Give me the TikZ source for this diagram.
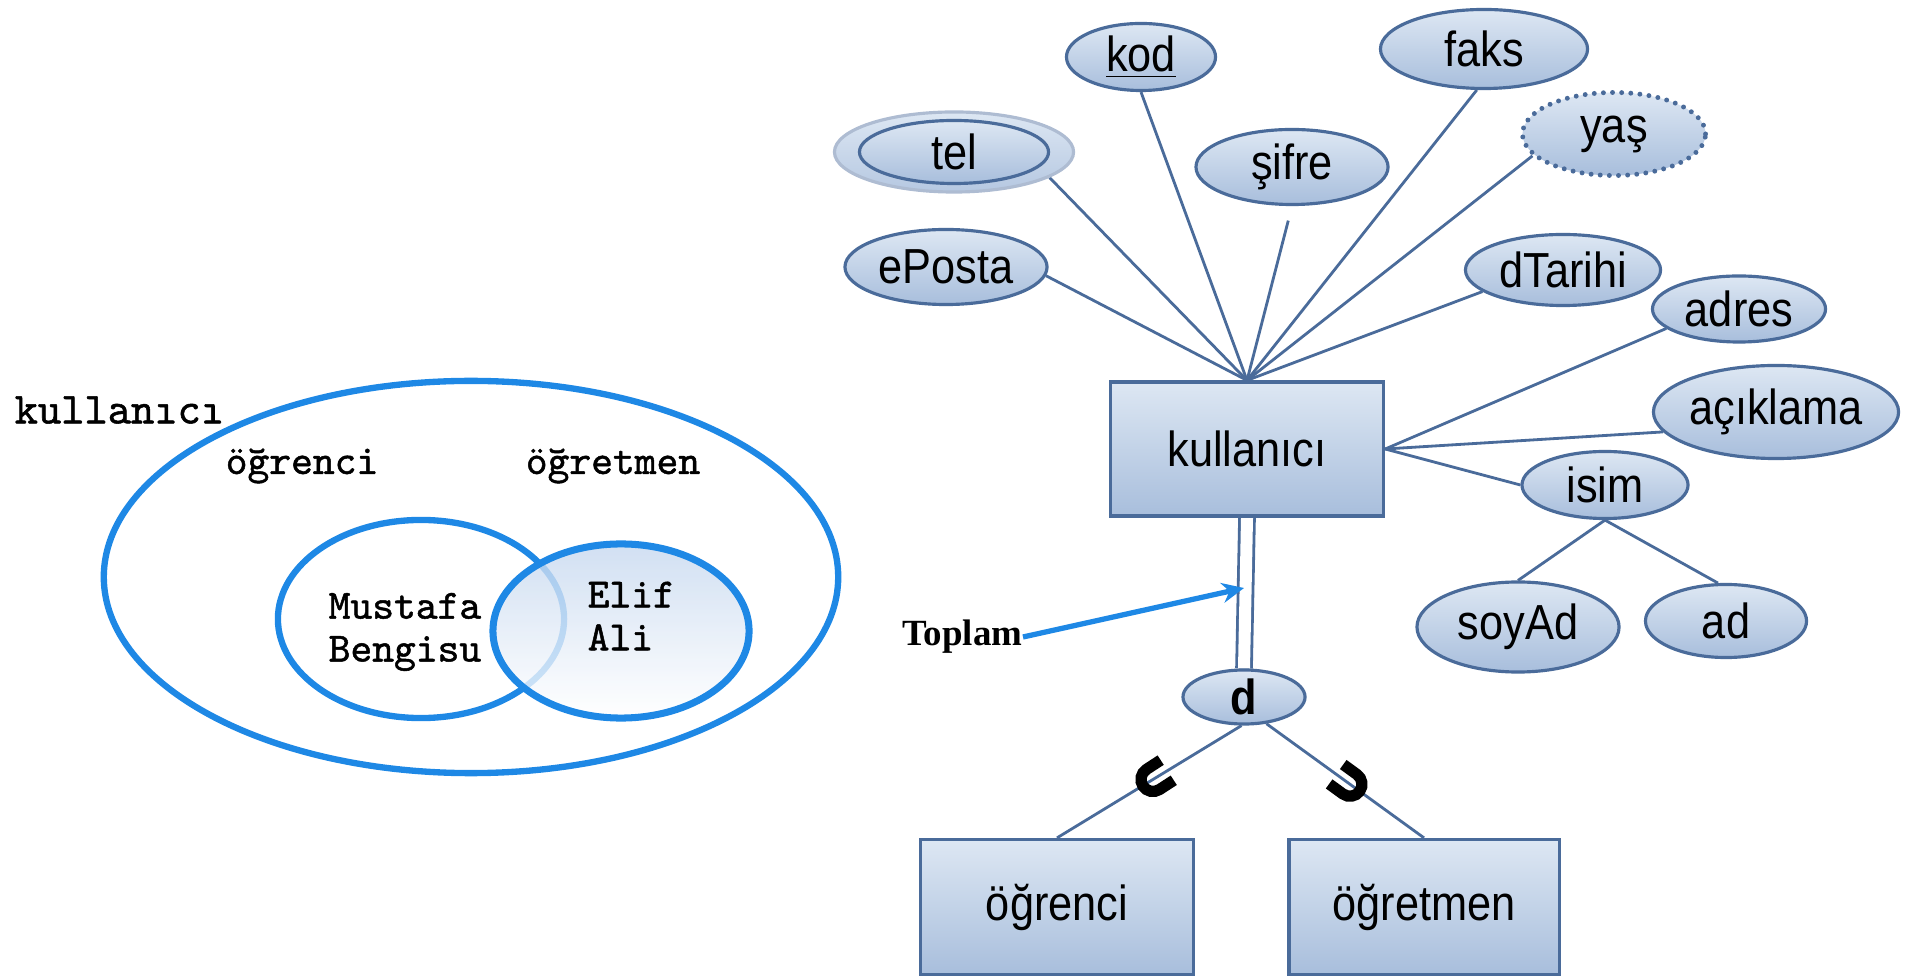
\documentclass[tikz,border=0pt]{standalone}
\usepackage{fontspec}
\newfontfamily\erfont[FakeStretch=0.88]{Liberation Sans}
\newfontfamily\notefont{Liberation Serif}
\newfontfamily\vennfont[FakeBold=1.2]{lmmono10-regular.otf}
\usetikzlibrary{shapes.geometric,arrows.meta,backgrounds}
\definecolor{erline}{HTML}{4A6B9A}
\definecolor{ertop}{HTML}{DDE7F3}
\definecolor{erbot}{HTML}{A8BEDC}
\definecolor{venn}{HTML}{1E88E5}
\definecolor{vennfill}{HTML}{C6D8EF}
\tikzset{
	attr/.style={ellipse, draw=erline, line width=0.9pt, top color=ertop, bottom color=erbot, inner sep=0pt, font=\erfont\fontsize{14}{16}\selectfont},
	entity/.style={rectangle, draw=erline, line width=0.9pt, top color=ertop, bottom color=erbot, inner sep=0pt, font=\erfont\fontsize{14}{16}\selectfont},
	link/.style={draw=erline, line width=0.8pt},
	vennline/.style={draw=venn, line width=1.8pt},
	venntext/.style={font=\vennfont\fontsize{11.8}{12.2}\selectfont, inner sep=0pt, align=left},
	subsetmark/.pic={\draw[line width=3.2pt] (-0.12cm,0.17cm) -- (-0.12cm,0cm) arc (180:360:0.12cm) -- (0.12cm,0.17cm);}
}
\begin{document}
\begin{tikzpicture}[x=0.01cm, y=-0.01cm]
	\useasboundingbox (0,0) rectangle (1910,980);
	\draw[vennline] (471,577) ellipse [x radius=3.67cm, y radius=1.96cm];
	\draw[vennline] (421,619) ellipse [x radius=1.43cm, y radius=0.99cm];
	\shade[top color=vennfill, bottom color=white, fill opacity=0.8] (621,631) ellipse [x radius=1.28cm, y radius=0.87cm];
	\draw[vennline, line width=2pt] (621,631) ellipse [x radius=1.28cm, y radius=0.87cm];
	\node[venntext, font=\vennfont\fontsize{12.6}{14}\selectfont, anchor=west] (kulset) at (14,410) {kullanıcı};
	\node[venntext] (ogrset) at (302,466) {öğrenci};
	\node[venntext] (ogtset) at (613,466) {öğretmen};
	\node[venntext, anchor=west] (ogrnames) at (328,632) {Mustafa\\Bengisu};
	\node[venntext, anchor=west] (ogtnames) at (587,616) {Elif\\Ali};

	\node[entity, minimum width=2.73cm, minimum height=1.34cm] (kul) at (1247,449) {kullanıcı};
	\node[attr, minimum width=1.49cm, minimum height=0.67cm] (kod) at (1141,57) {\underline{kod}};
	\node[attr, minimum width=2.07cm, minimum height=0.79cm] (faks) at (1484,49) {faks};
	\node[attr, draw=erline!45, top color=ertop, bottom color=erbot!85, minimum width=2.39cm, minimum height=0.80cm] (tel) at (954,152) {};
	\node[attr, minimum width=1.89cm, minimum height=0.63cm] (telin) at (954,152) {tel};
	\node[attr, minimum width=1.92cm, minimum height=0.75cm] (sifre) at (1292,167) {şifre};
	\node[attr, dash pattern=on 0pt off 2.6pt, line width=1.4pt, line cap=round, minimum width=1.83cm, minimum height=0.83cm] (yas) at (1614,134) {yaş};
	\node[attr, minimum width=2.02cm, minimum height=0.75cm] (eposta) at (946,267) {ePosta};
	\node[attr, minimum width=1.95cm, minimum height=0.71cm] (dtarihi) at (1563,270) {dTarihi};
	\node[attr, minimum width=1.73cm, minimum height=0.66cm] (adres) at (1739,309) {adres};
	\node[attr, minimum width=2.44cm, minimum height=0.93cm] (aciklama) at (1776,412) {açıklama};
	\node[attr, minimum width=1.66cm, minimum height=0.67cm] (isim) at (1605,485) {isim};
	\node[attr, minimum width=2.02cm, minimum height=0.90cm] (soyad) at (1518,627) {soyAd};
	\node[attr, minimum width=1.61cm, minimum height=0.73cm] (ad) at (1726,621) {ad};
	\node[attr, font=\erfont\bfseries\fontsize{14}{16}\selectfont, minimum width=1.22cm, minimum height=0.54cm] (d) at (1244,697) {d};
	\node[entity, minimum width=2.73cm, minimum height=1.35cm] (ogr) at (1057,907) {öğrenci};
	\node[entity, minimum width=2.70cm, minimum height=1.35cm] (ogt) at (1424,907) {öğretmen};

	\begin{pgfonlayer}{background}
		\draw[link] (kul.north) -- (eposta.-5);
		\draw[link] (kul.north) -- (tel.-15);
		\draw[link] (kul.north) -- (kod.south);
		\draw[link, shorten >=1.5mm] (kul.north) -- (sifre.south);
		\draw[link] (kul.north) -- (faks.260);
		\draw[link] (kul.north) -- (yas.195);
		\draw[link] (kul.north) -- (dtarihi.195);
		\draw[link] (kul.east) -- (adres.195);
		\draw[link] (kul.east) -- (aciklama.190);
		\draw[link] (kul.east) -- (isim.west);
		\draw[link] (isim.south) -- (soyad.north);
		\draw[link] (isim.south) -- (ad.102);
		\draw[link, double=white, double distance=0.12cm] (kul.south) -- (d.north);
		\draw[link] (d.265) -- (ogr.north) coordinate[pos=0.48] (ogrmark);
		\draw[link] (d.310) -- (ogt.north) coordinate[pos=0.53] (ogtmark);
	\end{pgfonlayer}
	\path (ogrmark) pic[rotate=-57] {subsetmark};
	\path (ogtmark) pic[rotate=54] {subsetmark};

	\node[font=\notefont\bfseries\fontsize{10.5}{12}\selectfont, inner sep=0pt, anchor=east] (toplam) at (1023,637) {Toplam};
	\coordinate (toplamhit) at (1244,588);
	\draw[draw=venn, line width=1.5pt, -{Stealth[length=0.22cm, width=0.2cm]}] (toplam.east) -- (toplamhit);
\end{tikzpicture}
\end{document}
